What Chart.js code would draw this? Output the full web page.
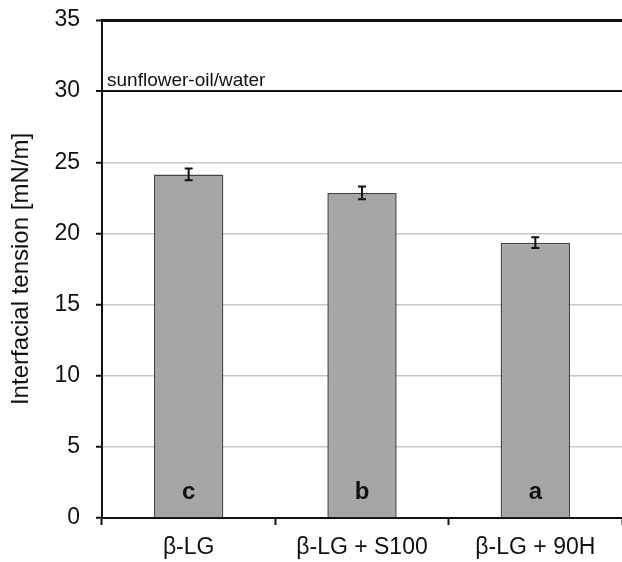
<!DOCTYPE html>
<html>
<head>
<meta charset="utf-8">
<script src="https://cdn.jsdelivr.net/npm/chart.js@4/dist/chart.umd.min.js"></script>
<style>
  html, body { margin: 0; padding: 0; background: #fff; }
  #wrap { width: 622px; height: 562px; }
</style>
</head>
<body>
<div id="wrap"><canvas id="myChart" width="622" height="562"></canvas></div>
<script>
// data
var categories = ['β-LG', 'β-LG + S100', 'β-LG + 90H'];
var tension = [24.15, 22.85, 19.35];
var errors = [0.42, 0.45, 0.38];
var letters = ['c', 'b', 'a'];
var refValue = 30;
var refLabel = 'sunflower-oil/water';

var FONT = '"Liberation Sans", Arial, sans-serif';

// error bars, letters in the bars and the label of the reference line
var extras = {
    id: 'extras',
    afterDatasetsDraw: function (chart) {
        var ctx = chart.ctx;
        var y = chart.scales.y;
        var meta = chart.getDatasetMeta(0);
        ctx.save();
        ctx.strokeStyle = '#111';
        ctx.lineWidth = 2;
        for (var i = 0; i < tension.length; i++) {
            var x = meta.data[i].x;
            var top = y.getPixelForValue(tension[i] + errors[i]);
            var bot = y.getPixelForValue(tension[i] - errors[i]);
            ctx.beginPath();
            ctx.moveTo(x, top); ctx.lineTo(x, bot);
            ctx.moveTo(x - 4, top); ctx.lineTo(x + 4, top);
            ctx.moveTo(x - 4, bot); ctx.lineTo(x + 4, bot);
            ctx.stroke();
        }
        // letters
        ctx.fillStyle = '#111';
        ctx.font = 'bold 24px ' + FONT;
        ctx.textAlign = 'center';
        ctx.textBaseline = 'alphabetic';
        for (var j = 0; j < letters.length; j++) {
            ctx.fillText(letters[j], meta.data[j].x, y.getPixelForValue(0) - 19);
        }
        // reference label
        ctx.font = '19px ' + FONT;
        ctx.textAlign = 'left';
        ctx.fillText(refLabel, chart.chartArea.left + 5, y.getPixelForValue(refValue) - 5);
        ctx.restore();
    }
};

var ctx = document.getElementById('myChart').getContext('2d');
var myChart = new Chart(ctx, {
    type: 'bar',
    data: {
        labels: categories,
        datasets: [{
            data: tension,
            backgroundColor: '#a6a6a6',
            borderColor: '#444444',
            borderWidth: 1.5,
            barPercentage: 0.4,
            categoryPercentage: 1.0
        }]
    },
    options: {
        responsive: false,
        animation: false,
        layout: { padding: { top: 20, right: 0, left: 0, bottom: 0 } },
        plugins: {
            legend: { display: false },
            tooltip: { enabled: false }
        },
        scales: {
            x: {
                offset: true,
                grid: {
                    offset: true,
                    drawOnChartArea: false,
                    drawTicks: true,
                    tickLength: 7,
                    tickColor: '#111',
                    tickWidth: 2
                },
                border: { color: '#111', width: 2 },
                ticks: {
                    color: '#111',
                    padding: 9,
                    font: { family: FONT, size: 23 }
                },
                afterFit: function (scale) { scale.height = 44; }
            },
            y: {
                min: 0,
                max: 35,
                ticks: {
                    stepSize: 5,
                    color: '#111',
                    padding: 16,
                    font: { family: FONT, size: 23 }
                },
                grid: {
                    color: function (c) {
                        if (c.tick && (c.tick.value === refValue || c.tick.value === 35)) return '#111';
                        return '#c8c8c8';
                    },
                    lineWidth: function (c) {
                        if (c.tick && c.tick.value === 35) return 3;
                        if (c.tick && c.tick.value === refValue) return 2;
                        return 1.5;
                    },
                    tickColor: '#111',
                    tickLength: 6,
                    tickWidth: 2
                },
                border: { color: '#111', width: 2 },
                title: {
                    display: true,
                    text: 'Interfacial tension [mN/m]',
                    color: '#111',
                    padding: { top: 7, bottom: 0 },
                    font: { family: FONT, size: 24 }
                },
                afterFit: function (scale) {
                    scale.width = 102;
                    scale.paddingTop = 0;
                    scale.paddingBottom = 0;
                }
            }
        }
    },
    plugins: [extras]
});
</script>
</body>
</html>
